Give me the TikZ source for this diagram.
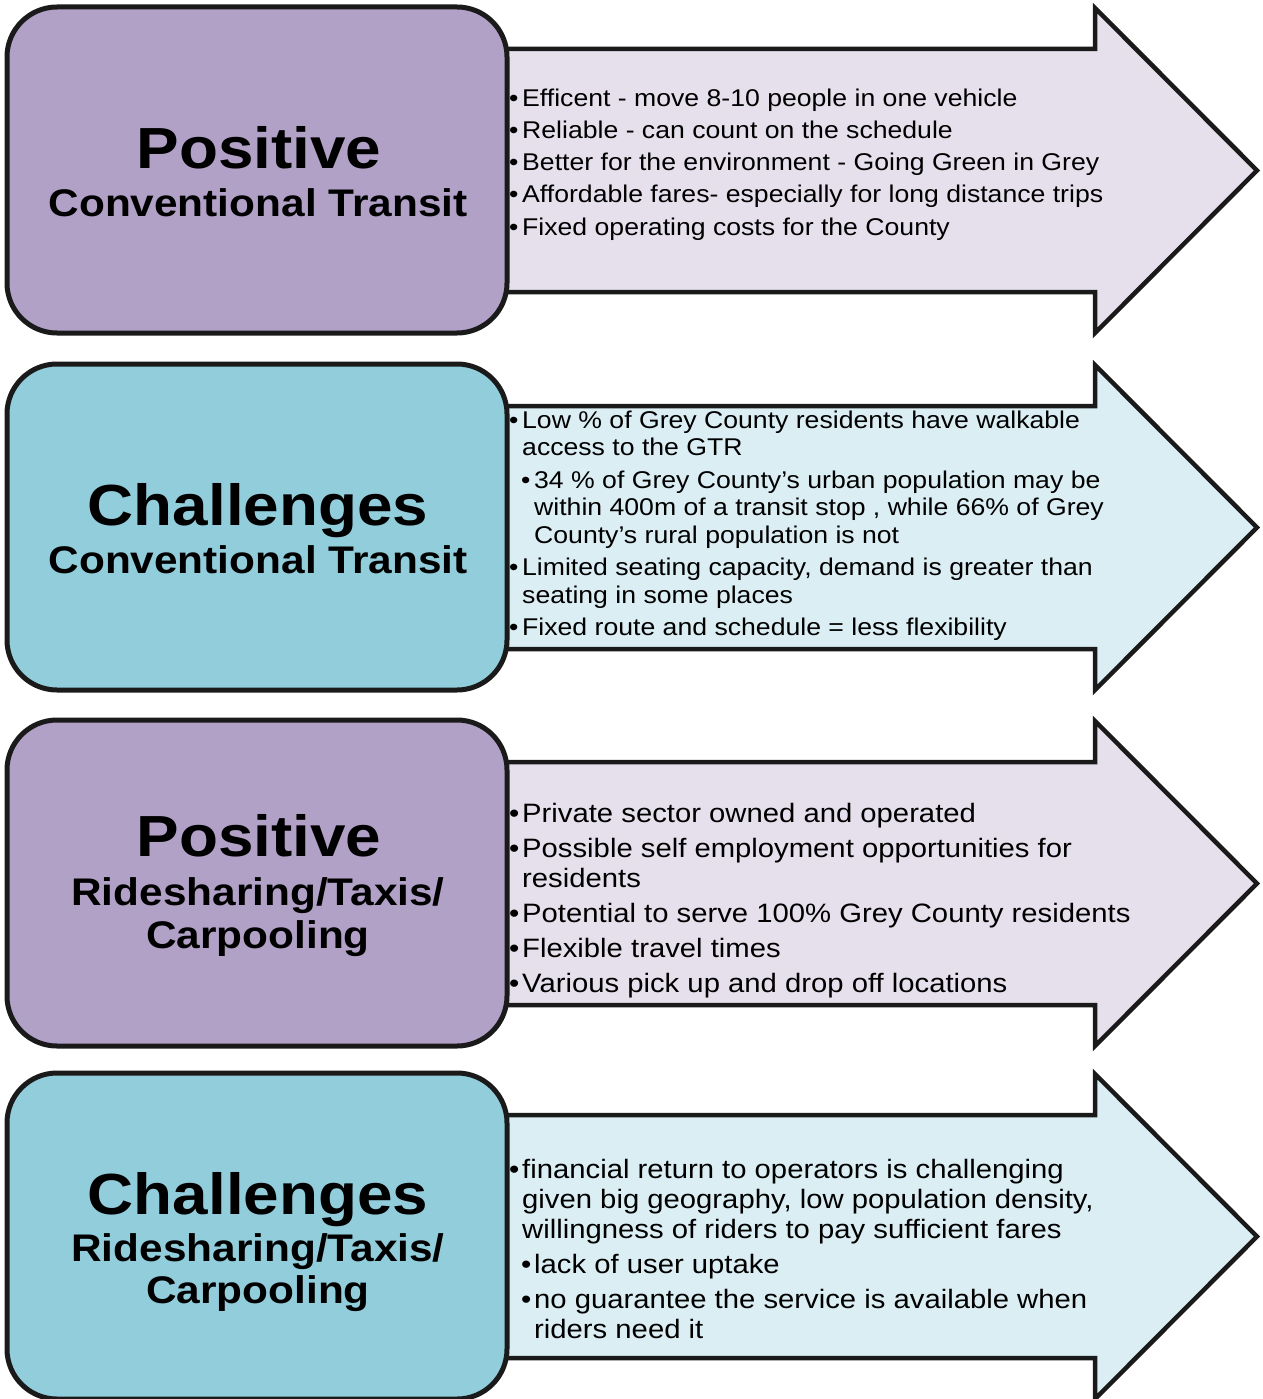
\documentclass[tikz,border=0pt]{standalone}
\usepackage{fontspec}
\setmainfont{Liberation Sans}[FakeStretch=1.1]
\definecolor{pdark}{HTML}{B2A1C7}
\definecolor{plight}{HTML}{E5E0EC}
\definecolor{bdark}{HTML}{92CDDC}
\definecolor{blight}{HTML}{DBEEF4}
\definecolor{edge}{HTML}{1A1A1A}
\newcommand\bul{\makebox[13pt][l]{•}}
\newcommand\bigarrow[2]{%
  \filldraw[arrowline,fill=#2] (505,#1+49) -- (1095,#1+49) -- (1095,#1+8) -- (1257,#1+170.5)
    -- (1095,#1+333) -- (1095,#1+292) -- (505,#1+292) -- cycle;}
\begin{document}
\begin{tikzpicture}[x=1pt,y=-1pt,
  arrowline/.style={draw=edge,line width=4.5pt,line join=miter},
  headbox/.style={draw=edge,line width=5pt,rounded corners=50pt,minimum width=500pt,minimum height=326pt,inner sep=0pt},
  ttl/.style={anchor=base,inner sep=0pt,font=\fontsize{58}{60}\selectfont\bfseries},
  sub/.style={anchor=base,inner sep=0pt,font=\fontsize{38.5}{42}\selectfont\bfseries},
  bodya/.style={anchor=base west,inner sep=0pt,font=\fontsize{24.2}{27.5}\selectfont},
  bodyb/.style={anchor=base west,inner sep=0pt,font=\fontsize{26.6}{30.5}\selectfont}]
\useasboundingbox (0,0) rectangle (1262,1399);

% ---------- block 1
\bigarrow{0}{plight}
\node[headbox,fill=pdark] (r1) at (257,170) {};
\node[ttl] (p1) at (259,168) {Positive};
\node[sub] (s1) at (258,216) {Conventional Transit};
\node[bodya] (a1) at (509,107) {\bul Efficent - move 8-10 people in one vehicle};
\node[bodya] (a2) at (509,139) {\bul Reliable - can count on the schedule};
\node[bodya] (a3) at (509,171) {\bul Better for the environment - Going Green in Grey};
\node[bodya] (a4) at (509,203) {\bul Affordable fares- especially for long distance trips};
\node[bodya] (a5) at (509,235) {\bul Fixed operating costs for the County};

% ---------- block 2
\bigarrow{357}{blight}
\node[headbox,fill=bdark] (r2) at (257,527) {};
\node[ttl] (p2) at (258,525) {Challenges};
\node[sub] (s2) at (258,573) {Conventional Transit};
\node[bodya] (b1) at (509,428) {\bul Low \% of Grey County residents have walkable};
\node[bodya] (b2) at (522,455.5) {access to the GTR};
\node[bodya] (b3) at (521,488) {\bul 34 \% of Grey County’s urban population may be};
\node[bodya] (b4) at (534,515.5) {within 400m of a transit stop , while 66\% of Grey};
\node[bodya] (b5) at (534,543) {County’s rural population is not};
\node[bodya] (b6) at (509,575.5) {\bul Limited seating capacity, demand is greater than};
\node[bodya] (b7) at (522,603) {seating in some places};
\node[bodya] (b8) at (509,635.5) {\bul Fixed route and schedule = less flexibility};

% ---------- block 3
\bigarrow{713}{plight}
\node[headbox,fill=pdark] (r3) at (257,883) {};
\node[ttl] (p3) at (259,856) {Positive};
\node[sub] (s3) at (258,905) {Ridesharing/Taxis/};
\node[sub] (s3b) at (258,948) {Carpooling};
\node[bodyb] (c1) at (509,822) {\bul Private sector owned and operated};
\node[bodyb] (c2) at (509,857) {\bul Possible self employment opportunities for};
\node[bodyb] (c3) at (522,887.5) {residents};
\node[bodyb] (c4) at (509,922) {\bul Potential to serve 100\% Grey County residents};
\node[bodyb] (c5) at (509,957) {\bul Flexible travel times};
\node[bodyb] (c6) at (509,992) {\bul Various pick up and drop off locations};

% ---------- block 4
\bigarrow{1066}{blight}
\node[headbox,fill=bdark] (r4) at (257,1236) {};
\node[ttl] (p4) at (258,1214) {Challenges};
\node[sub] (s4) at (258,1261) {Ridesharing/Taxis/};
\node[sub] (s4b) at (258,1303) {Carpooling};
\node[bodyb] (d1) at (509,1178) {\bul financial return to operators is challenging};
\node[bodyb] (d2) at (522,1208) {given big geography, low population density,};
\node[bodyb] (d3) at (522,1238) {willingness of riders to pay sufficient fares};
\node[bodyb] (d4) at (521,1273) {\bul lack of user uptake};
\node[bodyb] (d5) at (521,1308) {\bul no guarantee the service is available when};
\node[bodyb] (d6) at (534,1338) {riders need it};
\end{tikzpicture}
\end{document}
